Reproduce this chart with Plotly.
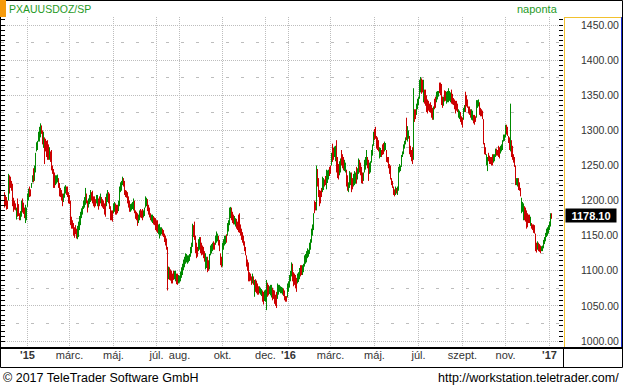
import pandas as pd
import plotly.graph_objects as go

# ---------------- data ----------------
first_day = "2014-12-01"          # first trading day shown (weekdays only)
symbol = "PXAUUSDOZ/SP"
period_label = "naponta"
last_price = 1178.10

# daily lows / highs (USD per ounce), one per weekday
lows = [
    1190, 1192, 1187, 1188, 1200, 1210, 1218, 1214, 1192, 1184,
    1187, 1186, 1173, 1177, 1178, 1172, 1172, 1177, 1183, 1181,
    1175, 1168, 1172, 1191, 1200, 1205, 1206, 1218, 1226, 1226,
    1228, 1240, 1270, 1272, 1284, 1284, 1290, 1295, 1280, 1275,
    1252, 1270, 1262, 1258, 1258, 1258, 1255, 1243, 1238, 1218,
    1218, 1222, 1224, 1226, 1218, 1206, 1205, 1200, 1192, 1198,
    1204, 1210, 1208, 1205, 1196, 1195, 1165, 1160, 1160, 1150,
    1147, 1152, 1146, 1145, 1148, 1158, 1165, 1175, 1180, 1188,
    1190, 1194, 1196, 1183, 1190, 1195, 1198, 1200, 1196, 1192,
    1190, 1192, 1196, 1192, 1187, 1192, 1196, 1192, 1190, 1188,
    1180, 1177, 1192, 1198, 1196, 1188, 1172, 1172, 1170, 1182,
    1184, 1180, 1180, 1182, 1185, 1192, 1212, 1214, 1222, 1220,
    1208, 1205, 1204, 1196, 1190, 1184, 1184, 1186, 1188, 1186,
    1182, 1174, 1172, 1164, 1168, 1172, 1176, 1175, 1172, 1176,
    1178, 1190, 1192, 1185, 1180, 1176, 1172, 1170, 1168, 1166,
    1165, 1158, 1156, 1154, 1152, 1146, 1150, 1152, 1150, 1148,
    1141, 1136, 1130, 1072, 1088, 1087, 1086, 1082, 1082, 1087,
    1088, 1085, 1081, 1080, 1082, 1083, 1085, 1090, 1094, 1101,
    1105, 1110, 1112, 1110, 1112, 1114, 1120, 1125, 1134, 1148,
    1144, 1125, 1118, 1120, 1128, 1130, 1125, 1122, 1123, 1118,
    1113, 1102, 1104, 1098, 1100, 1102, 1122, 1125, 1128, 1130,
    1130, 1137, 1140, 1142, 1136, 1128, 1108, 1105, 1106, 1130,
    1136, 1138, 1140, 1150, 1156, 1165, 1175, 1172, 1168, 1166,
    1166, 1163, 1160, 1158, 1155, 1154, 1150, 1144, 1140, 1136,
    1128, 1122, 1106, 1100, 1085, 1085, 1086, 1080, 1082, 1080,
    1063, 1070, 1068, 1066, 1066, 1068, 1066, 1064, 1056, 1052,
    1057, 1056, 1044, 1063, 1065, 1067, 1065, 1062, 1058, 1060,
    1053, 1050, 1047, 1060, 1066, 1070, 1068, 1068, 1066, 1064,
    1058, 1056, 1056, 1062, 1070, 1076, 1085, 1092, 1085, 1078,
    1080, 1075, 1070, 1082, 1084, 1088, 1092, 1094, 1094, 1098,
    1106, 1110, 1112, 1118, 1120, 1124, 1130, 1140, 1150, 1158,
    1182, 1186, 1186, 1220, 1205, 1192, 1196, 1205, 1212, 1215,
    1220, 1222, 1216, 1225, 1230, 1235, 1238, 1250, 1255, 1258,
    1262, 1256, 1240, 1232, 1230, 1236, 1240, 1250, 1246, 1243,
    1242, 1240, 1220, 1214, 1212, 1218, 1222, 1212, 1216, 1220,
    1222, 1224, 1224, 1230, 1238, 1240, 1236, 1225, 1224, 1228,
    1240, 1244, 1250, 1246, 1228, 1238, 1240, 1254, 1264, 1278,
    1286, 1288, 1274, 1272, 1270, 1260, 1262, 1262, 1265, 1266,
    1270, 1272, 1255, 1254, 1246, 1238, 1230, 1222, 1218, 1208,
    1206, 1208, 1210, 1208, 1214, 1240, 1242, 1248, 1262, 1266,
    1274, 1280, 1286, 1284, 1288, 1266, 1262, 1256, 1252, 1258,
    1312, 1316, 1322, 1330, 1336, 1345, 1354, 1352, 1354, 1340,
    1338, 1335, 1326, 1324, 1328, 1326, 1325, 1318, 1315, 1315,
    1330, 1332, 1340, 1344, 1348, 1353, 1350, 1336, 1332, 1335,
    1341, 1342, 1338, 1340, 1340, 1342, 1340, 1338, 1337, 1336,
    1330, 1324, 1328, 1326, 1318, 1316, 1312, 1308, 1304, 1315,
    1326, 1326, 1334, 1332, 1324, 1322, 1318, 1315, 1314, 1310,
    1308, 1312, 1318, 1332, 1334, 1322, 1320, 1320, 1316, 1280,
    1266, 1265, 1250, 1242, 1256, 1252, 1252, 1250, 1250, 1254,
    1256, 1262, 1264, 1264, 1262, 1260, 1267, 1270, 1272, 1284,
    1285, 1290, 1294, 1292, 1282, 1272, 1270, 1262, 1258, 1254,
    1248, 1222, 1222, 1220, 1215, 1214, 1206, 1182, 1184, 1172,
    1172, 1170, 1160, 1162, 1168, 1168, 1164, 1160, 1158, 1154,
    1153, 1128, 1126, 1130, 1128, 1127, 1125, 1128, 1128, 1132,
    1138, 1142, 1148, 1150, 1153, 1158, 1163, 1174,
]
highs = [
    1212, 1208, 1205, 1200, 1238, 1236, 1234, 1228, 1224, 1204,
    1200, 1196, 1190, 1203, 1195, 1182, 1185, 1200, 1203, 1197,
    1190, 1194, 1190, 1210, 1217, 1220, 1216, 1225, 1236, 1246,
    1250, 1268, 1283, 1285, 1298, 1305, 1310, 1307, 1300, 1298,
    1290, 1288, 1285, 1286, 1280, 1276, 1270, 1272, 1250, 1245,
    1240, 1236, 1236, 1237, 1232, 1225, 1218, 1215, 1210, 1210,
    1220, 1222, 1220, 1220, 1212, 1208, 1200, 1177, 1172, 1168,
    1162, 1165, 1160, 1164, 1170, 1178, 1184, 1189, 1192, 1200,
    1205, 1218, 1210, 1200, 1203, 1208, 1215, 1212, 1214, 1206,
    1206, 1202, 1208, 1208, 1203, 1206, 1210, 1205, 1202, 1200,
    1196, 1205, 1210, 1215, 1212, 1210, 1192, 1186, 1186, 1196,
    1198, 1196, 1194, 1194, 1200, 1220, 1226, 1228, 1234, 1232,
    1228, 1215, 1214, 1212, 1206, 1200, 1195, 1196, 1198, 1203,
    1200, 1186, 1184, 1182, 1180, 1186, 1188, 1186, 1188, 1186,
    1190, 1206, 1204, 1202, 1194, 1190, 1182, 1180, 1180, 1178,
    1176, 1175, 1172, 1172, 1166, 1167, 1162, 1162, 1160, 1158,
    1153, 1150, 1146, 1134, 1106, 1105, 1102, 1100, 1096, 1100,
    1100, 1100, 1096, 1096, 1094, 1093, 1099, 1105, 1110, 1116,
    1120, 1125, 1124, 1122, 1122, 1124, 1134, 1140, 1167, 1165,
    1170, 1150, 1140, 1134, 1145, 1148, 1148, 1140, 1136, 1134,
    1128, 1125, 1120, 1120, 1115, 1124, 1136, 1138, 1140, 1142,
    1140, 1150, 1156, 1153, 1150, 1144, 1125, 1120, 1140, 1145,
    1150, 1150, 1152, 1168, 1172, 1190, 1191, 1190, 1184, 1180,
    1178, 1175, 1174, 1170, 1180, 1182, 1166, 1160, 1155, 1150,
    1142, 1134, 1122, 1116, 1112, 1098, 1096, 1092, 1096, 1092,
    1087, 1088, 1086, 1082, 1078, 1078, 1076, 1074, 1072, 1070,
    1072, 1073, 1087, 1083, 1080, 1078, 1080, 1080, 1076, 1073,
    1072, 1066, 1070, 1082, 1080, 1080, 1078, 1077, 1076, 1075,
    1072, 1064, 1064, 1082, 1085, 1094, 1100, 1112, 1110, 1098,
    1096, 1094, 1090, 1096, 1098, 1104, 1108, 1108, 1108, 1110,
    1122, 1124, 1128, 1132, 1130, 1140, 1145, 1160, 1166, 1182,
    1200, 1198, 1250, 1245, 1232, 1215, 1214, 1218, 1234, 1232,
    1230, 1235, 1244, 1243, 1244, 1248, 1250, 1268, 1281, 1275,
    1277, 1278, 1286, 1262, 1252, 1256, 1260, 1272, 1266, 1262,
    1258, 1254, 1244, 1236, 1226, 1242, 1240, 1240, 1232, 1238,
    1242, 1240, 1248, 1246, 1260, 1258, 1254, 1248, 1240, 1240,
    1258, 1262, 1272, 1262, 1258, 1254, 1256, 1272, 1280, 1298,
    1302, 1305, 1292, 1290, 1286, 1276, 1275, 1272, 1280, 1282,
    1284, 1282, 1272, 1262, 1262, 1252, 1250, 1232, 1228, 1220,
    1216, 1220, 1218, 1220, 1248, 1252, 1250, 1265, 1270, 1280,
    1285, 1290, 1318, 1306, 1300, 1292, 1278, 1272, 1276, 1360,
    1330, 1330, 1338, 1345, 1348, 1372, 1376, 1374, 1372, 1372,
    1358, 1358, 1350, 1344, 1342, 1338, 1340, 1336, 1332, 1334,
    1345, 1348, 1355, 1356, 1356, 1368, 1368, 1366, 1348, 1348,
    1357, 1356, 1355, 1356, 1360, 1356, 1354, 1358, 1352, 1346,
    1344, 1342, 1342, 1338, 1330, 1328, 1326, 1320, 1318, 1332,
    1336, 1355, 1350, 1344, 1334, 1334, 1330, 1330, 1328, 1322,
    1322, 1320, 1343, 1343, 1344, 1340, 1332, 1330, 1328, 1316,
    1282, 1276, 1266, 1262, 1268, 1264, 1262, 1262, 1266, 1266,
    1266, 1274, 1274, 1272, 1278, 1276, 1278, 1280, 1286, 1294,
    1294, 1308, 1308, 1305, 1292, 1290, 1338, 1286, 1278, 1266,
    1262, 1250, 1232, 1232, 1232, 1226, 1218, 1204, 1198, 1196,
    1192, 1190, 1186, 1182, 1180, 1180, 1177, 1168, 1166, 1166,
    1165, 1153, 1140, 1142, 1140, 1138, 1136, 1135, 1136, 1144,
    1148, 1154, 1160, 1162, 1165, 1170, 1182, 1182,
]
# u = day closed higher (green), d = day closed lower (red)
moves = (
    "dddduddddd" "dduddduudd" "duuuudduud" "uuuuuuuddu" "dddddudddd"
    "duuudddddu" "uudddddddd" "ddduuuuuuu" "uudduuuddd" "dduudduddd"
    "dduudddddu" "uddduuuuud" "dddddduuuu" "dddduudddu" "uuudddduud"
    "dddduuuudd" "dddduddddd" "uudduuuuuu" "uuuuuuuuud" "dddduudddd"
    "duudduuuud" "duuudddduu" "uuduuuuddd" "uudddddddd" "ddddddddud"
    "udddduuudd" "uuudduuudd" "ddduuuuuud" "ddduuuuudd" "ddduuudduu"
    "uuuuuuuuuu" "dduddddduu" "dduuuddudd" "uuddduuddd" "uudduuuddu"
    "uuduuddddu" "uuudduuuuu" "ddddduuddd" "uudddddddd" "duduuuuuuu"
    "uuduuddddu" "dduuuuuddu" "dddddddddu" "dduuuddddu" "dduuuuuddd"
    "dddduudddu" "udddddduud" "dduuuddddd" "dduudddddu" "uudddduuuu"
    "uudddduddd" "dduuddduuu" "dddddduddd" "ddduddduuu" "uuuuuuud"
)

month_ticks = ["2015-01-01", "2015-03-02", "2015-05-01", "2015-07-01", "2015-08-03",
               "2015-10-01", "2015-12-01", "2016-01-01", "2016-03-01", "2016-05-02",
               "2016-07-01", "2016-09-01", "2016-11-01", "2017-01-02"]
month_labels = ["<b>'15</b>", "márc.", "máj.", "júl.", "aug.", "okt.", "dec.",
                "<b>'16</b>", "márc.", "máj.", "júl.", "szept.", "nov.", "<b>'17</b>"]
price_ticks = [1000, 1050, 1100, 1150, 1200, 1250, 1300, 1350, 1400, 1450]

assert len(lows) == len(highs) == len(moves), (len(lows), len(highs), len(moves))

# ---------------- styling ----------------
GREEN = "#008a00"
RED = "#cc0000"
GRID = "#bdbdbd"
FONT = "Liberation Sans"
W_PX, H_PX = 623, 386
L, T, R, B = 1, 17, 60, 39          # plot margins in px
PW, PH = W_PX - L - R, H_PX - T - B


def px(x):  # pixel x -> paper x
    return (x - L) / PW


def py(y):  # pixel y -> paper y
    return 1 - (y - T) / PH


dates = pd.bdate_range(first_day, periods=len(lows))
opens = [h if m == "d" else l for l, h, m in zip(lows, highs, moves)]
closes = [l if m == "d" else h for l, h, m in zip(lows, highs, moves)]

x_start = dates[0] - pd.offsets.BDay(4) + pd.Timedelta(hours=12)
x_end = dates[-1] + pd.offsets.BDay(11) + pd.Timedelta(hours=12)
y_range = [991.5, 1461.4]

fig = go.Figure()
fig.add_trace(go.Ohlc(
    x=dates, open=opens, high=highs, low=lows, close=closes,
    tickwidth=0,
    increasing=dict(line=dict(color=GREEN, width=1)),
    decreasing=dict(line=dict(color=RED, width=1)),
    showlegend=False, hoverinfo="skip",
))
fig.add_trace(go.Scatter(x=[dates[0]], y=[None], yaxis="y2", showlegend=False, hoverinfo="skip"))
fig.add_trace(go.Scatter(x=[dates[0]], y=[None], yaxis="y3", showlegend=False, hoverinfo="skip"))

fig.update_layout(
    width=W_PX, height=H_PX, autosize=False,
    margin=dict(l=L, r=R, t=T, b=B, pad=0),
    paper_bgcolor="white", plot_bgcolor="white",
    font=dict(family=FONT, size=11, color="#333333"),
    showlegend=False,
    hovermode=False,
    xaxis=dict(
        type="date", range=[x_start, x_end],
        rangebreaks=[dict(bounds=["sat", "mon"])],
        rangeslider=dict(visible=False),
        tickvals=month_ticks, ticktext=month_labels,
        ticks="", showgrid=True, gridcolor=GRID, griddash="1px,1px", gridwidth=1,
        showline=False, zeroline=False,
        tickfont=dict(family=FONT, size=11, color="#333333"),
    ),
    yaxis=dict(
        side="right", range=y_range,
        tickvals=price_ticks, ticktext=[f"{v:.2f}" for v in price_ticks],
        ticks="inside", ticklen=4, tickcolor="black", tickwidth=1,
        showgrid=True, gridcolor=GRID, griddash="1px,1px", gridwidth=1,
        zeroline=False, showline=False,
        tickfont=dict(family=FONT, size=10.5, color="#333333"),
        ticklabelstandoff=17,
        minor=dict(tick0=1000, dtick=50 / 7, ticks="inside", ticklen=4,
                   tickcolor="black", showgrid=False),
    ),
    yaxis2=dict(
        overlaying="y", side="right", range=y_range, anchor="x",
        tick0=1025, dtick=50, showgrid=True, gridcolor=GRID, griddash="3px,12px",
        showticklabels=False, ticks="", zeroline=False, showline=False,
    ),
    yaxis3=dict(
        overlaying="y", side="left", range=y_range, anchor="x",
        tick0=1000, dtick=50 / 7, ticks="inside", ticklen=4, tickcolor="black",
        showticklabels=False, showgrid=False, zeroline=False, showline=False,
    ),
)

shapes = [
    # outer frame
    dict(type="rect", xref="paper", yref="paper", x0=px(0.5), x1=px(622.5), y0=py(0.5), y1=py(367.5),
         line=dict(color="black", width=1), fillcolor="rgba(0,0,0,0)", layer="above"),
    # orange marker in header
    dict(type="rect", xref="paper", yref="paper", x0=px(0), x1=px(6), y0=py(0), y1=py(17),
         line=dict(width=0), fillcolor="#f59a0c", layer="above"),
    # thick line on top of the time axis strip
    dict(type="line", xref="paper", yref="paper", x0=px(0), x1=px(623), y0=py(348), y1=py(348),
         line=dict(color="black", width=2), layer="above"),
    # separator in the time axis strip
    dict(type="line", xref="paper", yref="paper", x0=px(563.5), x1=px(563.5), y0=py(348), y1=py(367),
         line=dict(color="black", width=1), layer="above"),
    # price scale panel border (yellow left/top, blue right)
    dict(type="line", xref="paper", yref="paper", x0=px(564.5), x1=px(564.5), y0=py(17), y1=py(347),
         line=dict(color="#f2c12e", width=1), layer="above"),
    dict(type="line", xref="paper", yref="paper", x0=px(564.5), x1=px(621.5), y0=py(17.5), y1=py(17.5),
         line=dict(color="#f2c12e", width=1), layer="above"),
    dict(type="line", xref="paper", yref="paper", x0=px(621.5), x1=px(621.5), y0=py(17), y1=py(347),
         line=dict(color="#1a2fd0", width=1), layer="above"),
]
fig.update_layout(shapes=shapes)

annotations = [
    dict(text=symbol, xref="paper", yref="paper", x=px(7), y=py(9), xanchor="left", yanchor="middle",
         showarrow=False, font=dict(family=FONT, size=10.5, color="#1f9a1f")),
    dict(text=period_label, xref="paper", yref="paper", x=px(560), y=py(9), xanchor="right", yanchor="middle",
         showarrow=False, font=dict(family=FONT, size=11, color="#1f9a1f")),
    dict(text=f"<b>{last_price:.2f}</b>", xref="paper", yref="y", x=px(565), y=last_price,
         xanchor="left", yanchor="middle", showarrow=False, bgcolor="black", width=48, height=11,
         borderpad=1, align="center", font=dict(family=FONT, size=11, color="white")),
    dict(text="© 2017 TeleTrader Software GmbH", xref="paper", yref="paper", x=px(1), y=py(378),
         xanchor="left", yanchor="middle", showarrow=False, font=dict(family=FONT, size=12.5, color="black")),
    dict(text="http://workstation.teletrader.com/", xref="paper", yref="paper", x=px(621), y=py(378),
         xanchor="right", yanchor="middle", showarrow=False, font=dict(family=FONT, size=12.5, color="black")),
]
fig.update_layout(annotations=annotations)

# remove the browser's default page margin so the figure sits at the window's top-left corner
fig.write_html("out.html",
               config={"displayModeBar": False, "staticPlot": True},
               post_script="document.body.style.margin='0';document.body.style.padding='0';")
